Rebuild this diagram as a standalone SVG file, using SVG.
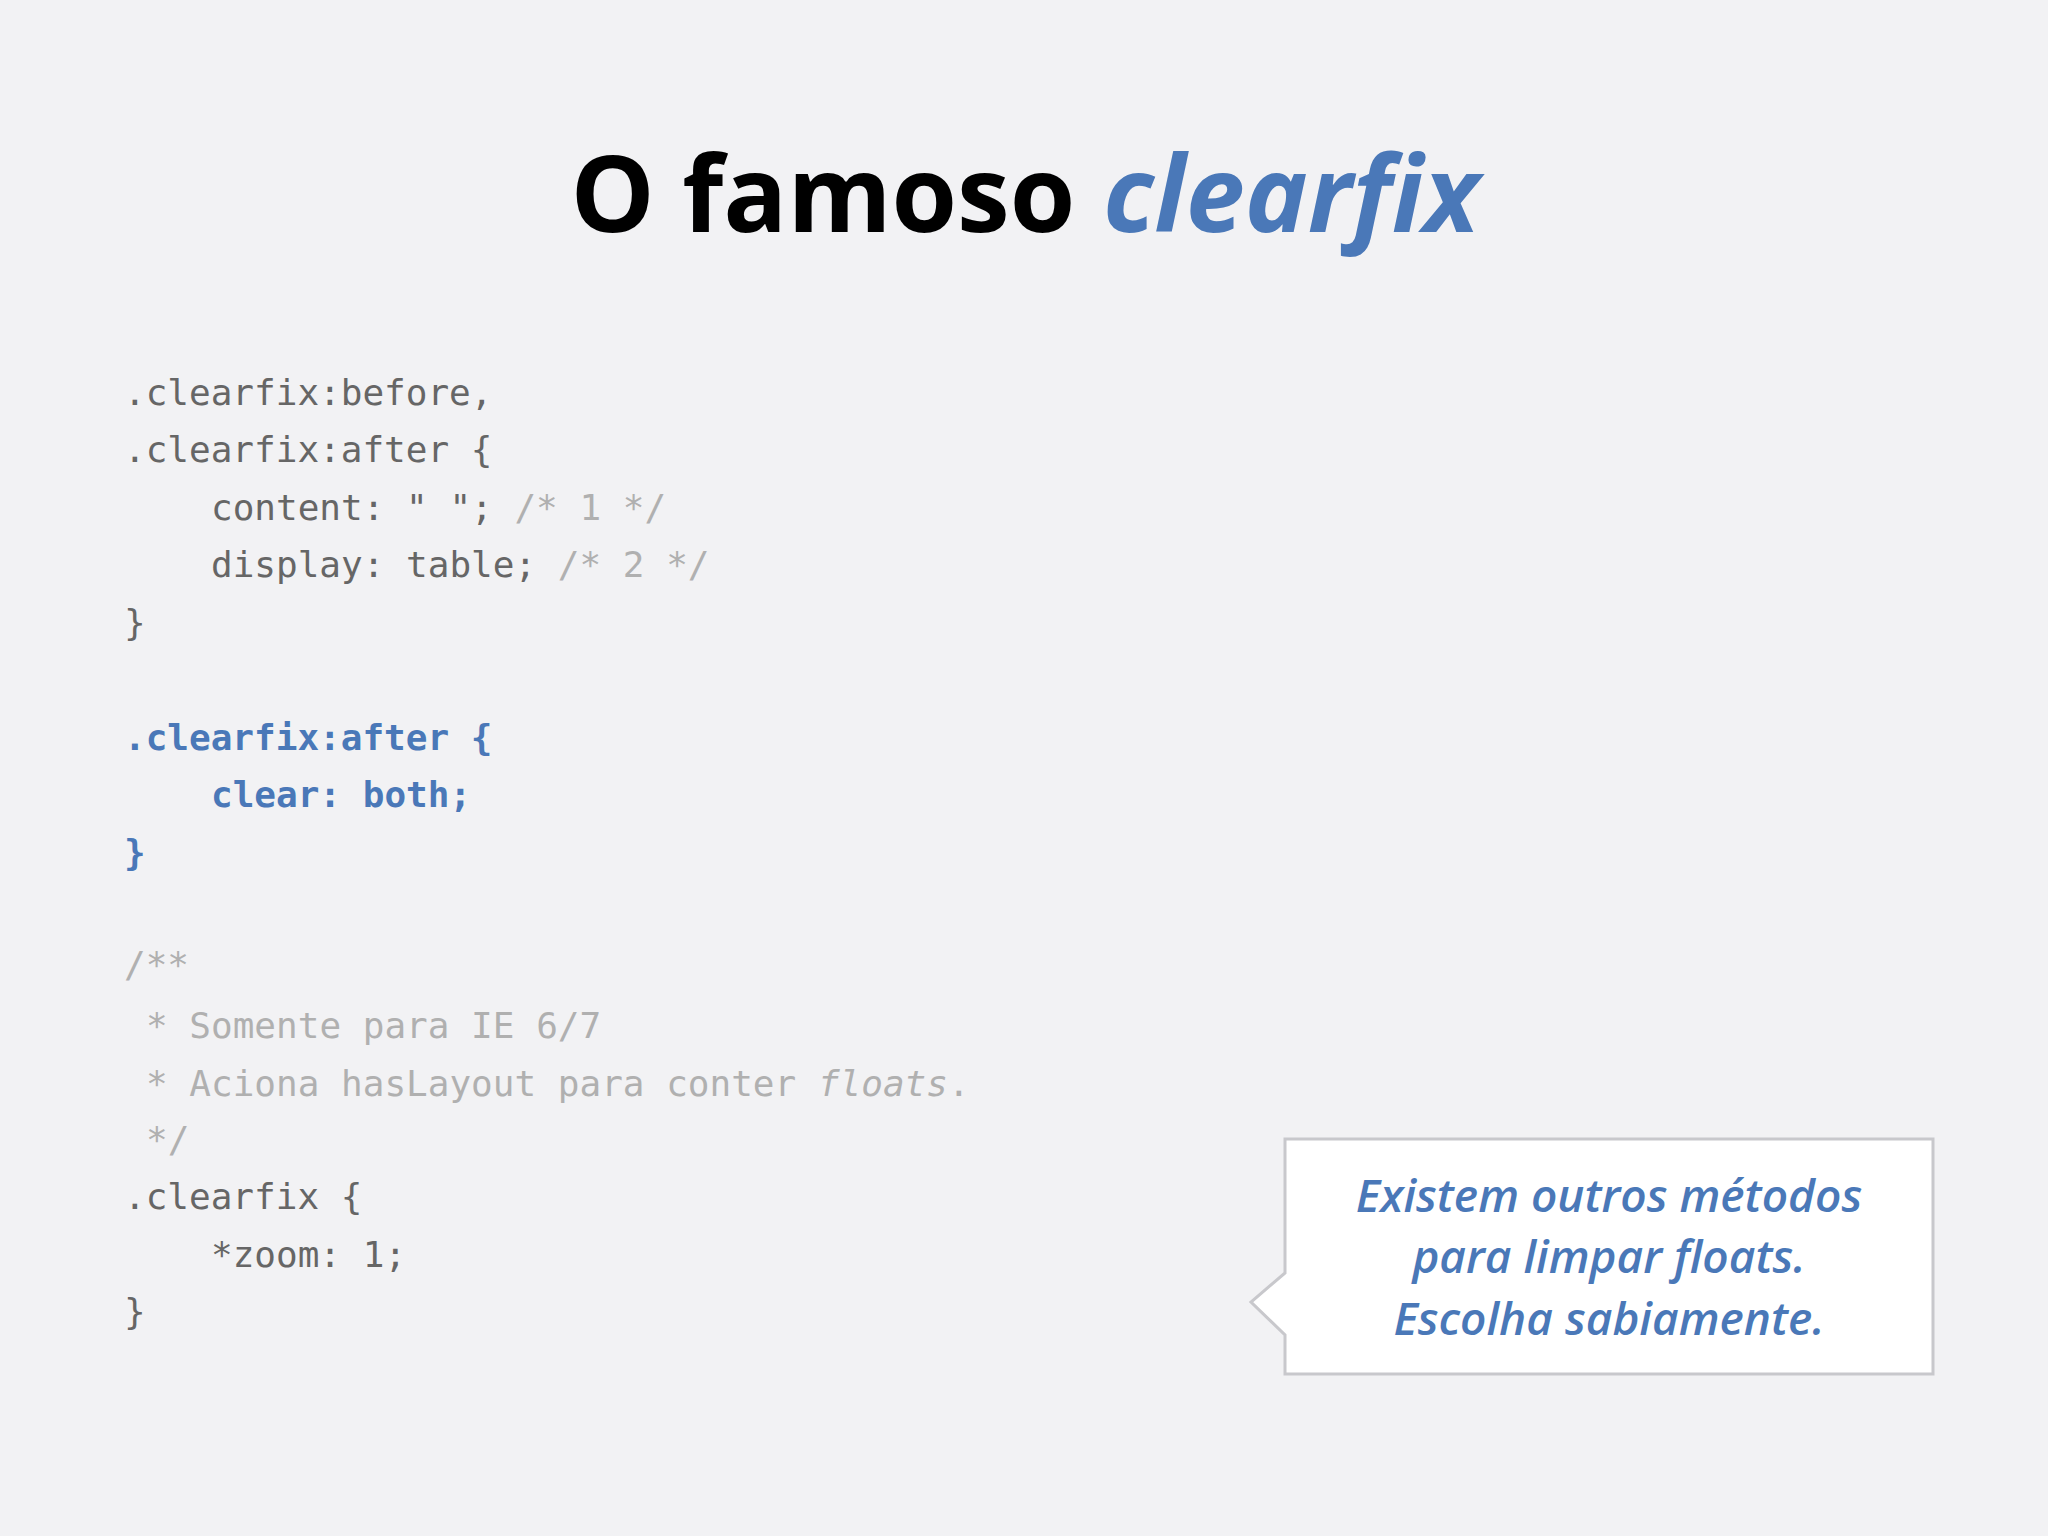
<svg xmlns="http://www.w3.org/2000/svg" width="2048" height="1536" viewBox="0 0 2048 1536">
<style>
.code{font-family:"DejaVu Sans Mono","Liberation Mono",monospace;font-size:36px;fill:#666}
.cm{fill:#b0b0b0}
.bl{fill:#4a78b8;font-weight:bold}
.t{font-family:"Open Sans","Noto Sans",sans-serif;font-weight:700;font-size:106px}
.cl{font-family:"Open Sans","Noto Sans",sans-serif;font-weight:600;font-style:italic;font-size:46px;fill:#4a78b8;text-anchor:middle}
</style>
<rect width="2048" height="1536" fill="#f2f2f4"/>
<g id="title"><text x="1025" y="232" text-anchor="middle" class="t"><tspan fill="#000">O famoso </tspan><tspan fill="#4a78b8" font-style="italic">clearfix</tspan></text></g>
<g id="code" class="code">
<text x="124" y="405">.clearfix:before,</text>
<text x="124" y="462">.clearfix:after {</text>
<text x="211" y="520" xml:space="preserve">content: " "; <tspan class="cm">/* 1 */</tspan></text>
<text x="211" y="577" xml:space="preserve">display: table; <tspan class="cm">/* 2 */</tspan></text>
<text x="124" y="635">}</text>
<text x="124" y="750" class="bl">.clearfix:after {</text>
<text x="211" y="807" class="bl">clear: both;</text>
<text x="124" y="865" class="bl">}</text>
<text x="124" y="977" class="cm">/**</text>
<text x="146" y="1038" class="cm">* Somente para IE 6/7</text>
<text x="146" y="1096" class="cm">* Aciona hasLayout para conter <tspan font-style="italic">floats</tspan>.</text>
<text x="146" y="1152" class="cm">*/</text>
<text x="124" y="1209">.clearfix {</text>
<text x="211" y="1267">*zoom: 1;</text>
<text x="124" y="1324">}</text>
</g>
<g id="callout">
<path d="M1285 1139 H1933 V1374 H1285 V1335 L1251 1302 L1285 1273 Z" fill="#fff" stroke="#c8c8cc" stroke-width="3"/>
<text x="1609" y="1212" class="cl">Existem outros métodos</text>
<text x="1609" y="1273" class="cl">para limpar floats.</text>
<text x="1609" y="1335" class="cl">Escolha sabiamente.</text>
</g>
</svg>
